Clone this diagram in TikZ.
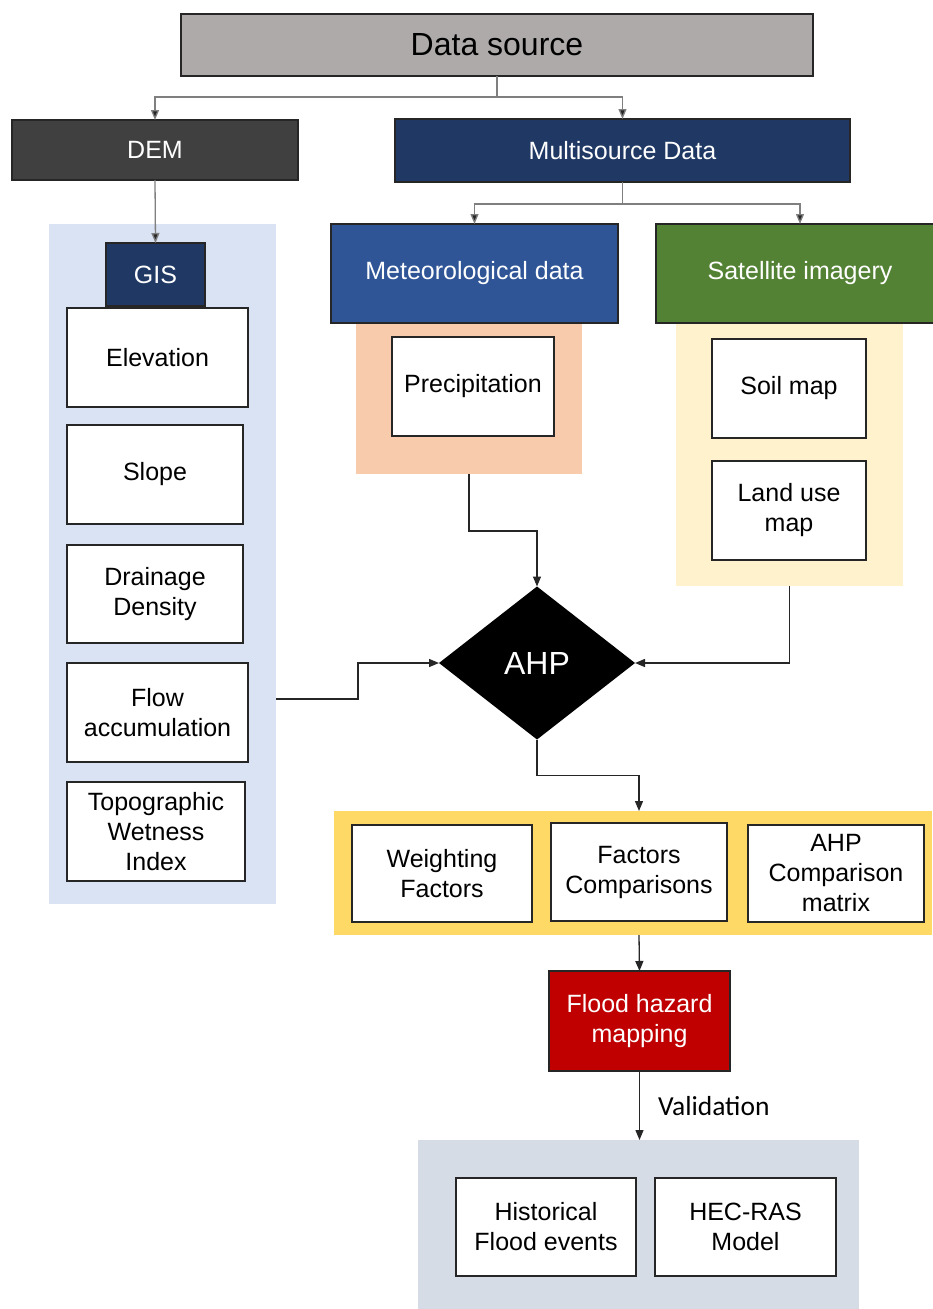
\documentclass[tikz,border=0pt]{standalone}
\usepackage{fontspec}
\setmainfont{Liberation Sans}
\newfontfamily\calib{Carlito}
\usetikzlibrary{shapes.geometric,arrows.meta,calc}
\definecolor{dsgray}{HTML}{AEAAAA}
\definecolor{demgray}{HTML}{404040}
\definecolor{navy}{HTML}{1F3864}
\definecolor{metblue}{HTML}{2F5597}
\definecolor{satgreen}{HTML}{548235}
\definecolor{lblue}{HTML}{DAE3F3}
\definecolor{lorange}{HTML}{F8CBAD}
\definecolor{lyellow}{HTML}{FFF2CC}
\definecolor{myellow}{HTML}{FFD966}
\definecolor{fred}{HTML}{C00000}
\definecolor{bgray}{HTML}{D6DCE5}
\definecolor{linegray}{HTML}{7F7F7F}
\definecolor{lineblk}{HTML}{262626}
\begin{document}
\begin{tikzpicture}[x=1pt,y=-1pt,
  every node/.style={inner sep=0pt, outer sep=0pt},
  txt/.style={font=\fontsize{25}{30}\selectfont, align=center},
  wbox/.style={txt, draw=lineblk, line width=1.3pt, fill=white},
  cbox/.style={txt, draw=lineblk, line width=1.3pt, text=white},
  panel/.style={draw=none},
  conn/.style={line width=1.3pt, draw=lineblk, -{Triangle[width=8pt,length=10pt]}},
  gconn/.style={line width=1.3pt, draw=linegray, -{Triangle[width=8pt,length=10pt,fill=lineblk]}}
]
\useasboundingbox (0,0) rectangle (932,1309);
% panels
\node[panel, fill=lblue, minimum width=227, minimum height=680] (bpanel) at (162.5,564) {};
\node[panel, fill=lorange, minimum width=226, minimum height=151] (opanel) at (469,398.5) {};
\node[panel, fill=lyellow, minimum width=227, minimum height=263] (ypanel) at (789.5,454.5) {};
\node[panel, fill=myellow, minimum width=598, minimum height=124] (ypanel2) at (633,873) {};
\node[panel, fill=bgray, minimum width=441, minimum height=169] (gpanel) at (638.5,1224.5) {};
% top boxes
\node[wbox, fill=dsgray, minimum width=632, minimum height=62, font=\fontsize{32}{36}\selectfont] (ds) at (497,45) {Data source};
\node[cbox, fill=demgray, minimum width=286, minimum height=60] (dem) at (155,150) {DEM};
\node[cbox, fill=navy, minimum width=455, minimum height=63] (ms) at (622.5,150.5) {Multisource Data};
\node[cbox, fill=navy, minimum width=99, minimum height=63] (gis) at (155.5,274.5) {GIS};
\node[cbox, fill=metblue, minimum width=287, minimum height=99] (met) at (474.5,273.5) {Meteorological data};
\node[cbox, fill=satgreen, minimum width=288, minimum height=99] (sat) at (800,273.5) {Satellite imagery};
% left column
\node[wbox, minimum width=181, minimum height=99] (elev) at (157.5,357.5) {Elevation};
\node[wbox, minimum width=176, minimum height=99] (slope) at (155,474.5) {Slope};
\node[wbox, minimum width=176, minimum height=98] (drain) at (155,594) {Drainage\\Density};
\node[wbox, minimum width=181, minimum height=99] (flow) at (157.5,712.5) {Flow\\accumulation};
\node[wbox, minimum width=178, minimum height=99] (twi) at (156,831.5) {Topographic\\Wetness\\Index};
% middle/right
\node[wbox, minimum width=162, minimum height=99] (prec) at (473,386.5) {Precipitation};
\node[wbox, minimum width=154, minimum height=99] (soil) at (789,388.5) {Soil map};
\node[wbox, minimum width=154, minimum height=99] (land) at (789,510.5) {Land use\\map};
% AHP
\node[diamond, fill=black, minimum width=196, minimum height=153, text=white, font=\fontsize{32}{36}\selectfont] (ahp) at (537,663) {AHP};
% lower boxes
\node[wbox, minimum width=180, minimum height=97] (wf) at (442,873.5) {Weighting\\Factors};
\node[wbox, minimum width=176, minimum height=98] (fc) at (639,872) {Factors\\Comparisons};
\node[wbox, minimum width=176, minimum height=97] (acm) at (836,873.5) {AHP\\Comparison\\matrix};
\node[cbox, fill=fred, minimum width=181, minimum height=100] (flood) at (639.5,1021) {Flood hazard\\mapping};
\node[wbox, minimum width=180, minimum height=98] (hist) at (546,1227) {Historical\\Flood events};
\node[wbox, minimum width=181, minimum height=98] (hec) at (745.5,1227) {HEC-RAS\\Model};
\node[font=\calib\fontsize{27.5}{30}\selectfont, anchor=west] (val) at (658,1106) {Validation};
% connectors
\draw[gconn] (ds.south) -- ++(0,21) -| (dem.north);
\draw[gconn] (ds.south) -- ++(0,21) -| (ms.north);
\draw[gconn] (ms.south) -- ++(0,22) -| (met.north);
\draw[gconn] (ms.south) -- ++(0,22) -| (sat.north);
\draw[gconn] (dem.south) -- (gis.north);
\draw[conn] (opanel.south) -- ++(0,57) -| (ahp.north);
\coordinate (bpout) at (bpanel.east |- 0,699);
\draw[conn] (bpout) -- ++(82,0) |- (ahp.west);
\draw[conn] (ypanel.south) |- (ahp.east);
\draw[conn] (ahp.south) -- ++(0,36) -| (fc.north |- ypanel2.north);
\draw[conn] (fc.south |- ypanel2.south) -- (flood.north);
\draw[conn] (flood.south) -- (flood.south |- gpanel.north);
\end{tikzpicture}
\end{document}
